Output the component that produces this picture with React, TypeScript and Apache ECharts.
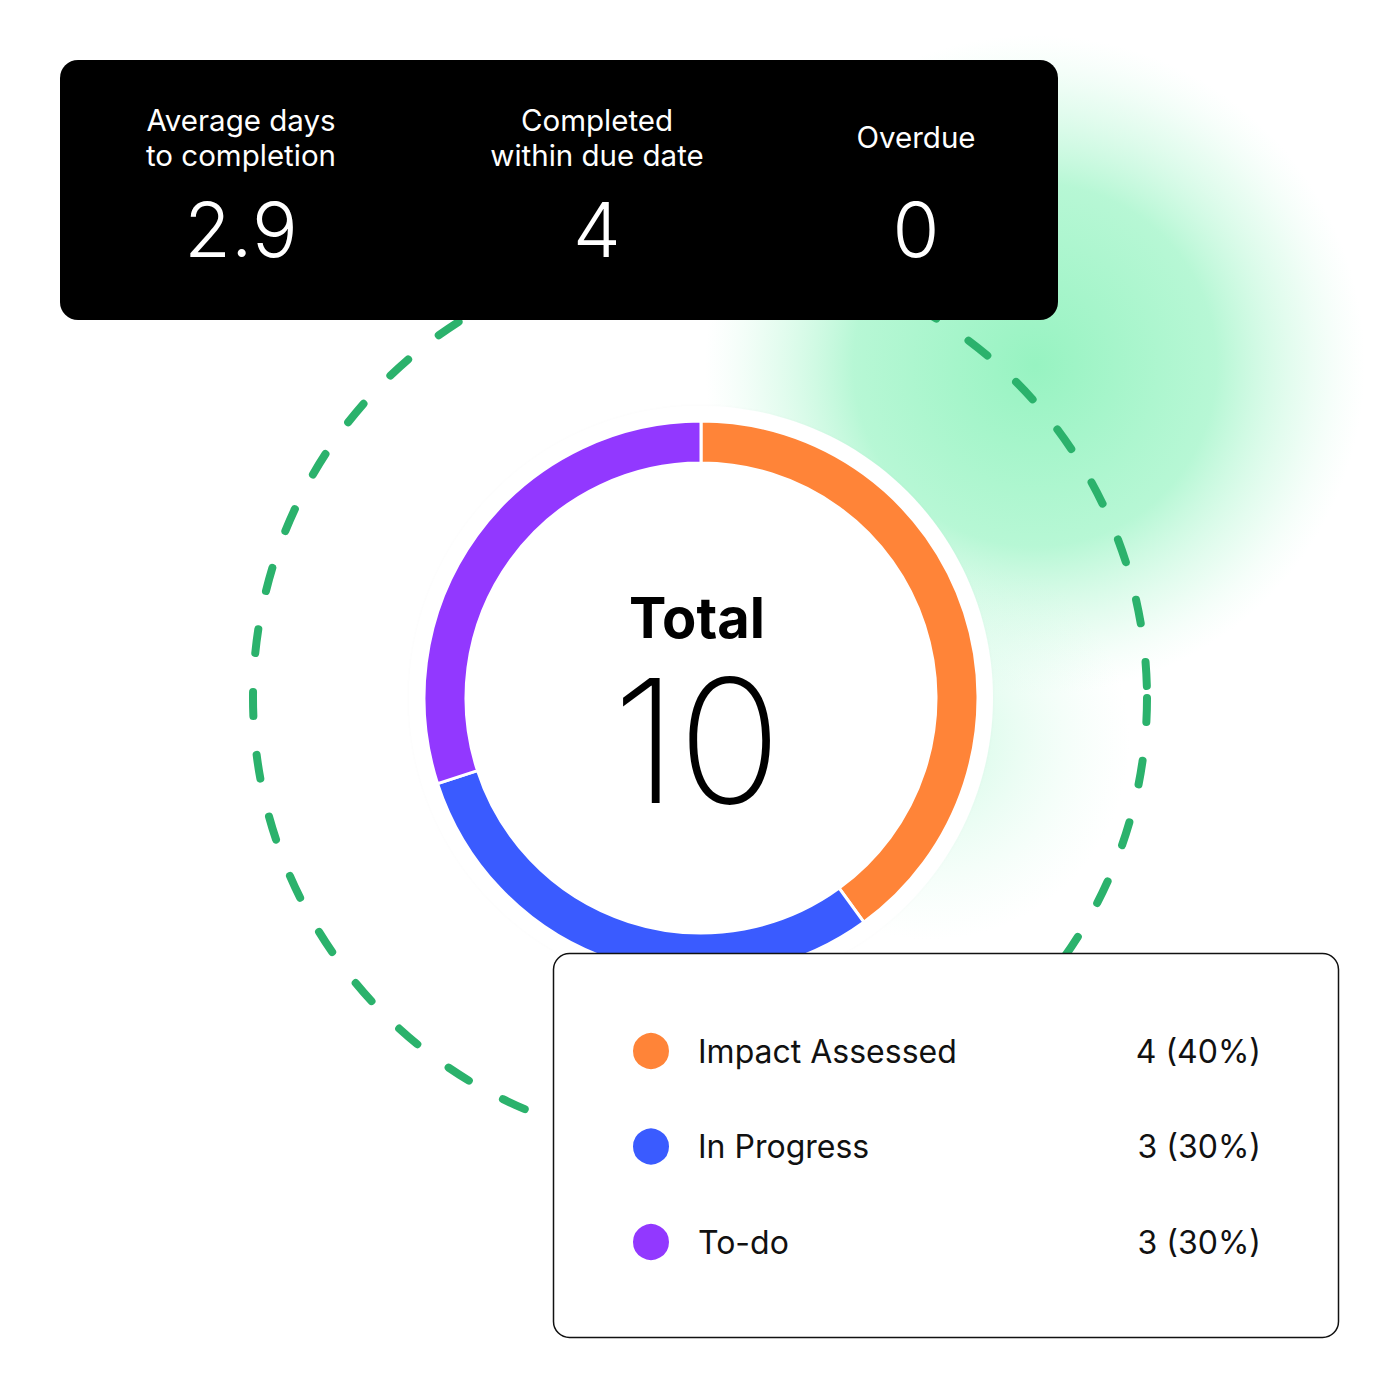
import React, { useEffect, useRef } from "react";
import * as echarts from "echarts";

const categories = ["Impact Assessed", "In Progress", "To-do"];
const counts = [4, 3, 3];
const colors = ["#FF8438", "#3A5BFF", "#9238FF"];

const statLabels = ["Average days\nto completion", "Completed\nwithin due date", "Overdue"];
const statValues = ["2.9", "4", "0"];
const statCentersX = [241, 597, 916];

const FONT = "Inter, 'Noto Sans', sans-serif";

export default function App() {
  const ref = useRef<HTMLDivElement>(null);
  useEffect(() => {
    if (!ref.current) return;
    const chart = echarts.init(ref.current, undefined, { renderer: "svg" });
    const total = counts.reduce((a, b) => a + b, 0);
    const cx = 701;
    const cy = 698;

    const statGraphics: any[] = [];
    statLabels.forEach((lab, i) => {
      statGraphics.push({
        type: "text",
        z: 21,
        x: statCentersX[i],
        y: 137,
        style: {
          text: lab,
          fill: "#ffffff",
          font: `400 29.5px ${FONT}`,
          lineHeight: 35,
          align: "center",
          verticalAlign: "middle",
        },
      });
      statGraphics.push({
        type: "text",
        z: 21,
        x: statCentersX[i],
        y: 229,
        style: {
          text: statValues[i],
          fill: "#ffffff",
          font: `300 76px ${FONT}`,
          align: "center",
          verticalAlign: "middle",
        },
      });
    });

    const legendData = categories.map((name, i) => ({
      name,
      itemStyle: { color: colors[i] },
    }));

    chart.setOption({
      animation: false,
      backgroundColor: "#ffffff",
      legend: {
        orient: "vertical",
        left: 631,
        top: 1031,
        padding: 0,
        icon: "circle",
        itemWidth: 38,
        itemHeight: 38,
        itemGap: 55.5,
        z: 30,
        data: legendData,
        selectedMode: false,
        formatter: (name: string) => {
          const idx = categories.indexOf(name);
          const v = counts[idx];
          const pct = Math.round((v / total) * 100);
          return `{s| }{n|${name}}{v|${v} (${pct}%)}`;
        },
        textStyle: {
          rich: {
            s: { width: 23, fontSize: 32 },
            n: { width: 443, fontSize: 32, fontFamily: FONT, color: "#111111", align: "left" },
            v: { width: 120, fontSize: 32, fontFamily: FONT, color: "#111111", align: "right" },
          },
        },
      },
      graphic: [
        {
          type: "circle",
          z: 0,
          shape: { cx: 1035, cy: 365, r: 330 },
          style: {
            fill: new echarts.graphic.RadialGradient(0.5, 0.5, 0.5, [
              { offset: 0, color: "rgba(125,240,178,0.8)" },
              { offset: 0.55, color: "rgba(135,242,185,0.6)" },
              { offset: 0.82, color: "rgba(170,246,205,0.25)" },
              { offset: 1, color: "rgba(200,250,225,0)" },
            ]),
          },
        },
        {
          type: "circle",
          z: 0,
          shape: { cx: 930, cy: 740, r: 200 },
          style: {
            fill: new echarts.graphic.RadialGradient(0.5, 0.5, 0.5, [
              { offset: 0, color: "rgba(150,244,195,0.45)" },
              { offset: 1, color: "rgba(200,250,225,0)" },
            ]),
          },
        },
        {
          type: "circle",
          z: 1,
          shape: { cx, cy, r: 292 },
          style: { fill: "#ffffff", shadowBlur: 3, shadowColor: "rgba(0,0,0,0.025)" },
        },
        {
          type: "circle",
          z: 2,
          shape: { cx: 700, cy: 698, r: 447 },
          style: {
            fill: "none",
            stroke: "#2BB26C",
            lineWidth: 8,
            lineDash: [24, 39],
            lineCap: "round",
          },
        },
        {
          type: "text",
          z: 6,
          x: 697,
          y: 710,
          style: {
            text: `{t|Total}\n{n|${total}}`,
            align: "center",
            verticalAlign: "middle",
            rich: {
              t: {
                fontFamily: FONT,
                fontWeight: 700,
                fontSize: 56,
                lineHeight: 60,
                fill: "#000000",
                align: "center",
              },
              n: {
                fontFamily: FONT,
                fontWeight: 200,
                fontSize: 172,
                lineHeight: 184,
                fill: "#000000",
                align: "center",
              },
            },
          },
        },
        {
          type: "rect",
          z: 20,
          shape: { x: 60, y: 60, width: 998, height: 260, r: 18 },
          style: { fill: "#000000" },
        },
        ...statGraphics,
        {
          type: "rect",
          z: 20,
          shape: { x: 553.5, y: 953.5, width: 785, height: 384, r: 16 },
          style: { fill: "#ffffff", stroke: "#111111", lineWidth: 1.5 },
        },
      ],
      series: [
        {
          type: "pie",
          z: 5,
          center: [cx, cy],
          radius: [235, 277],
          startAngle: 90,
          clockwise: true,
          label: { show: false },
          labelLine: { show: false },
          silent: true,
          itemStyle: { borderColor: "#ffffff", borderWidth: 3 },
          data: categories.map((name, i) => ({
            name,
            value: counts[i],
            itemStyle: { color: colors[i] },
          })),
        },
      ],
    });
    return () => chart.dispose();
  }, []);
  return (
    <div
      ref={ref}
      style={{ position: "fixed", left: 0, top: 0, width: 1400, height: 1400 }}
    />
  );
}
